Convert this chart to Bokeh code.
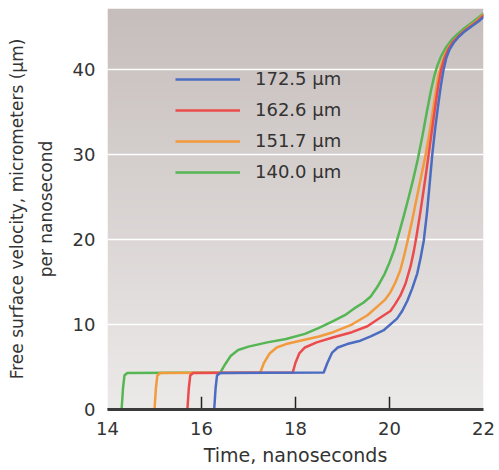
import numpy as np
from bokeh.plotting import figure
from bokeh.models import Range1d, FixedTicker, Legend, LegendItem
from bokeh.embed import file_html
from bokeh.resources import INLINE

# ---- data ----
series_labels = ["172.5 µm", "162.6 µm", "151.7 µm", "140.0 µm"]
series_colors = ["#4b6cc1", "#ec4b4d", "#f29a3c", "#55b653"]

time_1725 = [14.0, 16.27, 16.30, 16.33, 16.40, 18.60, 18.68, 18.78, 18.90, 19.10, 19.38, 19.60,
             19.87, 20.16, 20.27, 20.38, 20.48, 20.59, 20.66, 20.73, 20.80, 20.86, 20.91, 20.97,
             21.03, 21.09, 21.15, 21.21, 21.28, 21.37, 21.48, 21.60, 21.75, 21.90, 22.0]
vel_1725 = [0.0, 0.0, 2.5, 4.0, 4.3, 4.35, 5.5, 6.7, 7.3, 7.7, 8.1, 8.6,
            9.3, 10.7, 11.6, 12.8, 14.2, 16.0, 17.8, 19.9, 23.3, 26.9, 30.0, 33.0,
            35.6, 38.0, 40.0, 41.4, 42.4, 43.2, 43.9, 44.5, 45.1, 45.7, 46.2]

time_1626 = [14.0, 15.70, 15.73, 15.76, 15.82, 17.94, 18.00, 18.08, 18.20, 18.45, 18.81, 19.20,
             19.53, 19.80, 20.02, 20.12, 20.23, 20.34, 20.45, 20.52, 20.58, 20.65, 20.72, 20.78,
             20.84, 20.90, 20.97, 21.04, 21.10, 21.16, 21.24, 21.34, 21.46, 21.60, 21.75, 21.89, 22.0]
vel_1626 = [0.0, 0.0, 2.5, 4.0, 4.3, 4.35, 5.5, 6.6, 7.3, 7.9, 8.5, 9.1,
            9.8, 10.8, 11.6, 12.4, 13.4, 14.8, 16.9, 18.7, 20.6, 23.0, 25.6, 27.9,
            30.3, 32.7, 35.5, 38.2, 40.0, 41.2, 42.3, 43.2, 43.9, 44.6, 45.2, 45.8, 46.4]

time_1517 = [14.0, 15.00, 15.03, 15.06, 15.12, 17.25, 17.33, 17.45, 17.60, 17.80, 18.10, 18.50,
             18.80, 19.20, 19.53, 19.80, 19.90, 20.02, 20.12, 20.23, 20.32, 20.40, 20.48, 20.55,
             20.65, 20.77, 20.87, 20.96, 21.04, 21.11, 21.18, 21.28, 21.40, 21.55, 21.70, 21.85, 22.0]
vel_1517 = [0.0, 0.0, 2.5, 4.0, 4.3, 4.35, 5.5, 6.6, 7.3, 7.7, 8.1, 8.6,
            9.1, 10.0, 11.1, 12.4, 12.9, 13.8, 14.9, 16.4, 18.3, 20.2, 22.2, 24.1,
            26.8, 30.0, 33.2, 36.5, 39.3, 40.7, 41.8, 42.8, 43.6, 44.4, 45.1, 45.7, 46.5]

time_1400 = [14.0, 14.30, 14.33, 14.36, 14.42, 16.40, 16.50, 16.62, 16.78, 17.00, 17.40, 17.80,
             18.20, 18.50, 18.80, 19.05, 19.25, 19.45, 19.60, 19.75, 19.90, 20.00, 20.10, 20.20,
             20.30, 20.40, 20.50, 20.60, 20.70, 20.80, 20.88, 20.95, 21.02, 21.10, 21.20, 21.32,
             21.45, 21.60, 21.79, 22.0]
vel_1400 = [0.0, 0.0, 2.5, 4.0, 4.3, 4.35, 5.3, 6.3, 7.0, 7.4, 7.9, 8.3,
            8.9, 9.6, 10.4, 11.1, 11.9, 12.6, 13.3, 14.5, 16.0, 17.3, 18.8, 20.7,
            22.7, 24.8, 27.0, 29.4, 32.2, 35.2, 37.5, 39.2, 40.5, 41.6, 42.6, 43.5,
            44.2, 44.9, 45.7, 46.6]

x_ticks = [14, 16, 18, 20, 22]
inner_tick_marks = [16, 18, 20]
y_ticks = [0, 10, 20, 30, 40]
grid_values = [10, 20, 30, 40]

x_start, x_end = 14, 22
y_start, y_end = 0, 47.2

text_color = "#333333"
font = "DejaVu Sans"

p = figure(width=499, height=470, x_range=Range1d(x_start, x_end), y_range=Range1d(y_start, y_end),
           output_backend="svg", toolbar_location=None,
           min_border_left=107, min_border_right=16, min_border_top=8, min_border_bottom=61)
p.outline_line_color = None
p.border_fill_color = "white"

# background gradient (style only)
n = 200
img = np.empty((n, 1), dtype=np.uint32)
view = img.view(dtype=np.uint8).reshape((n, 1, 4))
bottom_rgb = np.array([236, 234, 233], dtype=float)
top_rgb = np.array([198, 190, 188], dtype=float)
for i in range(n):
    t = i / (n - 1)
    c = bottom_rgb + (top_rgb - bottom_rgb) * t
    view[i, 0, 0] = int(c[0]); view[i, 0, 1] = int(c[1]); view[i, 0, 2] = int(c[2]); view[i, 0, 3] = 255
p.image_rgba(image=[img], x=x_start, y=y_start, dw=x_end - x_start, dh=y_end - y_start, level="image")

# grid
p.xgrid.grid_line_color = None
p.ygrid.ticker = FixedTicker(ticks=grid_values)
p.ygrid.grid_line_color = "white"
p.ygrid.grid_line_width = 1.5

# axes
p.xaxis.ticker = FixedTicker(ticks=x_ticks)
p.xaxis.axis_line_color = "#3a3a3a"
p.xaxis.axis_line_width = 3
p.xaxis.major_tick_line_color = None
p.xaxis.minor_tick_line_color = None
p.xaxis.major_tick_out = 0
p.xaxis.major_label_standoff = 12
p.xaxis.axis_label = "Time, nanoseconds"
p.xaxis.axis_label_standoff = 6

p.yaxis.ticker = FixedTicker(ticks=y_ticks)
p.yaxis.axis_line_color = None
p.yaxis.major_tick_line_color = None
p.yaxis.minor_tick_line_color = None
p.yaxis.major_tick_out = 0
p.yaxis.major_label_standoff = 12
p.yaxis.axis_label = "Free surface velocity, micrometers (µm)\nper nanosecond"
p.yaxis.axis_label_standoff = 14
p.yaxis.axis_label_text_line_height = 1.45

for ax in (p.xaxis, p.yaxis):
    ax.major_label_text_font = font
    ax.major_label_text_font_size = "18px"
    ax.major_label_text_color = text_color
    ax.axis_label_text_font = font
    ax.axis_label_text_font_style = "normal"
    ax.axis_label_text_color = text_color
p.xaxis.axis_label_text_font_size = "19px"
p.yaxis.axis_label_text_font_size = "17px"

# inner tick marks on the x axis
p.segment(x0=inner_tick_marks, y0=[0] * len(inner_tick_marks), x1=inner_tick_marks,
          y1=[1.5] * len(inner_tick_marks), line_color="#222222", line_width=1.5)

# curves
series = [(time_1725, vel_1725), (time_1626, vel_1626), (time_1517, vel_1517), (time_1400, vel_1400)]
renderers = [None] * 4
for idx in [3, 2, 1, 0]:
    t, v = series[idx]
    renderers[idx] = p.line(t, v, line_color=series_colors[idx], line_width=2.5, line_join="round")

legend = Legend(items=[LegendItem(label=series_labels[i], renderers=[renderers[i]]) for i in range(4)],
                location=(68, 227), glyph_width=65, glyph_height=20, label_height=20,
                label_standoff=15, spacing=10, padding=0, margin=0,
                background_fill_alpha=0, border_line_color=None,
                label_text_font=font, label_text_font_size="18px", label_text_color=text_color)
p.add_layout(legend)

open("out.html", "w").write(file_html(p, INLINE))
